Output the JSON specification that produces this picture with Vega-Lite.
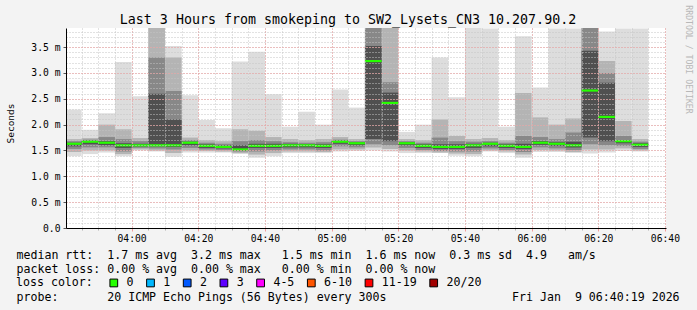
{
  "$schema": "https://vega.github.io/schema/vega-lite/v6.json",
  "width": 600,
  "height": 200,
  "autosize": {"type": "none"},
  "padding": {"left": 66, "top": 28, "right": 31, "bottom": 82},
  "background": "#f3f3f3",
  "title": {
    "text": "Last 3 Hours from smokeping to SW2_Lysets_CN3 10.207.90.2",
    "font": "DejaVu Sans Mono",
    "fontSize": 13.3,
    "fontWeight": "normal",
    "color": "#000000",
    "anchor": "middle",
    "frame": "group",
    "dx": -18,
    "dy": 26,
    "offset": 4
  },
  "config": {
    "view": {"fill": "white", "stroke": null},
    "font": "DejaVu Sans Mono"
  },
  "data": {
    "format": {"parse": {"t": "date", "t2": "date"}},
    "values": [
      {"t": "2026-01-09T03:40:00Z", "t2": "2026-01-09T03:45:00Z", "lo": 1.39, "p10": 1.47, "p25": 1.53, "p40": 1.58, "med": 1.63, "p60": 1.65, "p75": 1.68, "p90": 1.72, "hi": 2.29, "loss": "0"},
      {"t": "2026-01-09T03:45:00Z", "t2": "2026-01-09T03:50:00Z", "lo": 1.43, "p10": 1.50, "p25": 1.56, "p40": 1.62, "med": 1.67, "p60": 1.69, "p75": 1.71, "p90": 1.74, "hi": 1.90, "loss": "0"},
      {"t": "2026-01-09T03:50:00Z", "t2": "2026-01-09T03:55:00Z", "lo": 1.46, "p10": 1.50, "p25": 1.56, "p40": 1.60, "med": 1.65, "p60": 1.68, "p75": 1.76, "p90": 2.00, "hi": 2.22, "loss": "0"},
      {"t": "2026-01-09T03:55:00Z", "t2": "2026-01-09T04:00:00Z", "lo": 1.39, "p10": 1.43, "p25": 1.48, "p40": 1.55, "med": 1.60, "p60": 1.64, "p75": 1.72, "p90": 1.91, "hi": 3.21, "loss": "0"},
      {"t": "2026-01-09T04:00:00Z", "t2": "2026-01-09T04:05:00Z", "lo": 1.50, "p10": 1.52, "p25": 1.55, "p40": 1.58, "med": 1.60, "p60": 1.63, "p75": 1.68, "p90": 1.74, "hi": 2.55, "loss": "0"},
      {"t": "2026-01-09T04:05:00Z", "t2": "2026-01-09T04:10:00Z", "lo": 1.48, "p10": 1.50, "p25": 1.54, "p40": 1.58, "med": 1.60, "p60": 2.60, "p75": 3.30, "p90": 4.20, "hi": 4.50, "loss": "0"},
      {"t": "2026-01-09T04:10:00Z", "t2": "2026-01-09T04:15:00Z", "lo": 1.38, "p10": 1.45, "p25": 1.52, "p40": 1.57, "med": 1.60, "p60": 2.10, "p75": 2.65, "p90": 3.30, "hi": 3.52, "loss": "0"},
      {"t": "2026-01-09T04:15:00Z", "t2": "2026-01-09T04:20:00Z", "lo": 1.46, "p10": 1.50, "p25": 1.55, "p40": 1.60, "med": 1.65, "p60": 1.67, "p75": 1.70, "p90": 1.75, "hi": 2.57, "loss": "0"},
      {"t": "2026-01-09T04:20:00Z", "t2": "2026-01-09T04:25:00Z", "lo": 1.46, "p10": 1.49, "p25": 1.52, "p40": 1.55, "med": 1.59, "p60": 1.62, "p75": 1.65, "p90": 1.70, "hi": 2.09, "loss": "0"},
      {"t": "2026-01-09T04:25:00Z", "t2": "2026-01-09T04:30:00Z", "lo": 1.46, "p10": 1.48, "p25": 1.51, "p40": 1.54, "med": 1.57, "p60": 1.60, "p75": 1.63, "p90": 1.68, "hi": 1.93, "loss": "0"},
      {"t": "2026-01-09T04:30:00Z", "t2": "2026-01-09T04:35:00Z", "lo": 1.43, "p10": 1.45, "p25": 1.48, "p40": 1.50, "med": 1.52, "p60": 1.60, "p75": 1.68, "p90": 1.91, "hi": 3.22, "loss": "0"},
      {"t": "2026-01-09T04:35:00Z", "t2": "2026-01-09T04:40:00Z", "lo": 1.36, "p10": 1.42, "p25": 1.48, "p40": 1.55, "med": 1.59, "p60": 1.63, "p75": 1.70, "p90": 1.88, "hi": 3.41, "loss": "0"},
      {"t": "2026-01-09T04:40:00Z", "t2": "2026-01-09T04:45:00Z", "lo": 1.39, "p10": 1.45, "p25": 1.50, "p40": 1.55, "med": 1.59, "p60": 1.63, "p75": 1.68, "p90": 1.76, "hi": 2.59, "loss": "0"},
      {"t": "2026-01-09T04:45:00Z", "t2": "2026-01-09T04:50:00Z", "lo": 1.45, "p10": 1.48, "p25": 1.52, "p40": 1.56, "med": 1.60, "p60": 1.63, "p75": 1.66, "p90": 1.72, "hi": 1.96, "loss": "0"},
      {"t": "2026-01-09T04:50:00Z", "t2": "2026-01-09T04:55:00Z", "lo": 1.45, "p10": 1.48, "p25": 1.52, "p40": 1.56, "med": 1.60, "p60": 1.62, "p75": 1.65, "p90": 1.70, "hi": 2.25, "loss": "0"},
      {"t": "2026-01-09T04:55:00Z", "t2": "2026-01-09T05:00:00Z", "lo": 1.45, "p10": 1.47, "p25": 1.50, "p40": 1.55, "med": 1.59, "p60": 1.62, "p75": 1.66, "p90": 1.72, "hi": 2.00, "loss": "0"},
      {"t": "2026-01-09T05:00:00Z", "t2": "2026-01-09T05:05:00Z", "lo": 1.48, "p10": 1.52, "p25": 1.58, "p40": 1.63, "med": 1.67, "p60": 1.69, "p75": 1.71, "p90": 1.76, "hi": 2.68, "loss": "0"},
      {"t": "2026-01-09T05:05:00Z", "t2": "2026-01-09T05:10:00Z", "lo": 1.49, "p10": 1.52, "p25": 1.56, "p40": 1.60, "med": 1.64, "p60": 1.66, "p75": 1.68, "p90": 1.72, "hi": 2.33, "loss": "0"},
      {"t": "2026-01-09T05:10:00Z", "t2": "2026-01-09T05:15:00Z", "lo": 1.50, "p10": 1.56, "p25": 1.62, "p40": 1.72, "med": 3.23, "p60": 3.52, "p75": 4.30, "p90": 4.40, "hi": 4.50, "loss": "0"},
      {"t": "2026-01-09T05:15:00Z", "t2": "2026-01-09T05:20:00Z", "lo": 1.48, "p10": 1.53, "p25": 1.60, "p40": 1.68, "med": 2.42, "p60": 2.62, "p75": 2.82, "p90": 3.87, "hi": 3.95, "loss": "0"},
      {"t": "2026-01-09T05:20:00Z", "t2": "2026-01-09T05:25:00Z", "lo": 1.45, "p10": 1.50, "p25": 1.55, "p40": 1.60, "med": 1.64, "p60": 1.66, "p75": 1.68, "p90": 1.72, "hi": 1.86, "loss": "0"},
      {"t": "2026-01-09T05:25:00Z", "t2": "2026-01-09T05:30:00Z", "lo": 1.45, "p10": 1.48, "p25": 1.51, "p40": 1.55, "med": 1.59, "p60": 1.62, "p75": 1.65, "p90": 1.70, "hi": 2.00, "loss": "0"},
      {"t": "2026-01-09T05:30:00Z", "t2": "2026-01-09T05:35:00Z", "lo": 1.45, "p10": 1.46, "p25": 1.49, "p40": 1.53, "med": 1.57, "p60": 1.62, "p75": 1.75, "p90": 2.10, "hi": 3.30, "loss": "0"},
      {"t": "2026-01-09T05:35:00Z", "t2": "2026-01-09T05:40:00Z", "lo": 1.40, "p10": 1.44, "p25": 1.48, "p40": 1.53, "med": 1.57, "p60": 1.62, "p75": 1.68, "p90": 1.78, "hi": 2.53, "loss": "0"},
      {"t": "2026-01-09T05:40:00Z", "t2": "2026-01-09T05:45:00Z", "lo": 1.39, "p10": 1.43, "p25": 1.48, "p40": 1.55, "med": 1.60, "p60": 1.63, "p75": 1.67, "p90": 1.72, "hi": 4.20, "loss": "0"},
      {"t": "2026-01-09T05:45:00Z", "t2": "2026-01-09T05:50:00Z", "lo": 1.48, "p10": 1.50, "p25": 1.54, "p40": 1.58, "med": 1.63, "p60": 1.65, "p75": 1.68, "p90": 1.74, "hi": 3.86, "loss": "0"},
      {"t": "2026-01-09T05:50:00Z", "t2": "2026-01-09T05:55:00Z", "lo": 1.45, "p10": 1.48, "p25": 1.51, "p40": 1.55, "med": 1.59, "p60": 1.62, "p75": 1.65, "p90": 1.70, "hi": 1.96, "loss": "0"},
      {"t": "2026-01-09T05:55:00Z", "t2": "2026-01-09T06:00:00Z", "lo": 1.36, "p10": 1.42, "p25": 1.47, "p40": 1.53, "med": 1.57, "p60": 1.63, "p75": 1.78, "p90": 2.61, "hi": 3.71, "loss": "0"},
      {"t": "2026-01-09T06:00:00Z", "t2": "2026-01-09T06:05:00Z", "lo": 1.47, "p10": 1.51, "p25": 1.56, "p40": 1.61, "med": 1.65, "p60": 1.68, "p75": 1.76, "p90": 2.14, "hi": 2.72, "loss": "0"},
      {"t": "2026-01-09T06:05:00Z", "t2": "2026-01-09T06:10:00Z", "lo": 1.47, "p10": 1.50, "p25": 1.54, "p40": 1.59, "med": 1.63, "p60": 1.66, "p75": 1.72, "p90": 2.00, "hi": 3.86, "loss": "0"},
      {"t": "2026-01-09T06:10:00Z", "t2": "2026-01-09T06:15:00Z", "lo": 1.45, "p10": 1.47, "p25": 1.51, "p40": 1.56, "med": 1.60, "p60": 1.67, "p75": 1.85, "p90": 2.12, "hi": 3.86, "loss": "0"},
      {"t": "2026-01-09T06:15:00Z", "t2": "2026-01-09T06:20:00Z", "lo": 1.44, "p10": 1.52, "p25": 1.62, "p40": 1.75, "med": 2.66, "p60": 3.43, "p75": 4.30, "p90": 4.40, "hi": 4.50, "loss": "0"},
      {"t": "2026-01-09T06:20:00Z", "t2": "2026-01-09T06:25:00Z", "lo": 1.46, "p10": 1.52, "p25": 1.60, "p40": 1.68, "med": 2.15, "p60": 2.81, "p75": 3.00, "p90": 3.23, "hi": 3.80, "loss": "0"},
      {"t": "2026-01-09T06:25:00Z", "t2": "2026-01-09T06:30:00Z", "lo": 1.49, "p10": 1.54, "p25": 1.59, "p40": 1.64, "med": 1.68, "p60": 1.70, "p75": 1.78, "p90": 2.07, "hi": 3.86, "loss": "0"},
      {"t": "2026-01-09T06:30:00Z", "t2": "2026-01-09T06:35:00Z", "lo": 1.48, "p10": 1.50, "p25": 1.53, "p40": 1.57, "med": 1.61, "p60": 1.64, "p75": 1.67, "p90": 1.72, "hi": 3.86, "loss": "0"}
    ]
  },
  "layer": [
    {
      "mark": {"type": "bar", "color": "#dddddd", "clip": true},
      "encoding": {
        "x": {
          "field": "t", "type": "temporal",
          "scale": {"type": "utc", "domain": [1767930019000, 1767940819000]},
          "axis": {
            "orient": "bottom",
            "values": [1767930300000,1767930600000,1767930900000,1767931200000,1767931500000,1767931800000,1767932100000,1767932400000,1767932700000,1767933000000,1767933300000,1767933600000,1767933900000,1767934200000,1767934500000,1767934800000,1767935100000,1767935400000,1767935700000,1767936000000,1767936300000,1767936600000,1767936900000,1767937200000,1767937500000,1767937800000,1767938100000,1767938400000,1767938700000,1767939000000,1767939300000,1767939600000,1767939900000,1767940200000,1767940500000,1767940800000],
            "grid": true, "gridColor": "#c4c4c4", "gridDash": [1, 2], "gridWidth": 1,
            "labels": false, "domain": false, "ticks": true, "tickSize": 2, "tickColor": "#b0b0b0",
            "title": "probe:\u00a0\u00a0\u00a0\u00a0\u00a0\u00a0\u00a020 ICMP Echo Pings (56 Bytes) every 300s\u00a0\u00a0\u00a0\u00a0\u00a0\u00a0\u00a0\u00a0\u00a0\u00a0\u00a0\u00a0\u00a0\u00a0\u00a0\u00a0\u00a0\u00a0Fri Jan\u00a0\u00a09 06:40:19 2026",
            "titleFont": "DejaVu Sans Mono", "titleFontSize": 11.6, "titleFontWeight": "normal",
            "titleColor": "#000000", "titleX": -50, "titleY": 72, "titleAlign": "left",
            "titleBaseline": "alphabetic",
            "zindex": 1
          }
        },
        "x2": {"field": "t2"},
        "y": {
          "field": "lo", "type": "quantitative",
          "scale": {"domain": [0, 3.87], "nice": false, "zero": true},
          "axis": {
            "orient": "left",
            "values": [0,0.1,0.2,0.3,0.4,0.5,0.6,0.7,0.8,0.9,1,1.1,1.2,1.3,1.4,1.5,1.6,1.7,1.8,1.9,2,2.1,2.2,2.3,2.4,2.5,2.6,2.7,2.8,2.9,3,3.1,3.2,3.3,3.4,3.5,3.6,3.7,3.8],
            "grid": true, "gridColor": "#c4c4c4", "gridDash": [1, 2], "gridWidth": 1,
            "labels": false, "domain": false, "ticks": false, "title": null, "zindex": 1
          }
        },
        "y2": {"field": "hi"}
      }
    },
    {
      "mark": {"type": "bar", "color": "#b4b4b4", "clip": true},
      "encoding": {
        "x": {
          "field": "t", "type": "temporal",
          "axis": {
            "orient": "bottom",
            "values": [1767931200000,1767932400000,1767933600000,1767934800000,1767936000000,1767937200000,1767938400000,1767939600000,1767940800000],
            "format": "%H:%M",
            "grid": true, "gridColor": "#f29a9a", "gridDash": [1, 2], "gridWidth": 1,
            "domain": true, "domainColor": "#000000", "domainWidth": 1,
            "ticks": true, "tickSize": 3, "tickColor": "#f29a9a",
            "labelFont": "DejaVu Sans Mono", "labelFontSize": 9.7, "labelColor": "#000000",
            "labelPadding": 2, "labelFlush": false, "labelOverlap": false,
            "title": [
              "median rtt:\u00a0\u00a01.7 ms avg\u00a0\u00a03.2 ms max\u00a0\u00a0\u00a01.5 ms min\u00a0\u00a01.6 ms now\u00a0\u00a00.3 ms sd\u00a0\u00a04.9\u00a0\u00a0\u00a0am/s",
              "packet loss:\u00a00.00 % avg\u00a0\u00a00.00 % max\u00a0\u00a0\u00a00.00 % min\u00a0\u00a00.00 % now"
            ],
            "titleFont": "DejaVu Sans Mono", "titleFontSize": 11.6, "titleFontWeight": "normal",
            "titleColor": "#000000", "titleX": -50, "titleY": 30, "titleAlign": "left",
            "titleBaseline": "alphabetic", "titleLineHeight": 14,
            "zindex": 1
          }
        },
        "x2": {"field": "t2"},
        "y": {
          "field": "p10", "type": "quantitative",
          "axis": {
            "orient": "left",
            "values": [0, 0.5, 1, 1.5, 2, 2.5, 3, 3.5],
            "grid": true, "gridColor": "#f29a9a", "gridDash": [1, 2], "gridWidth": 1,
            "domain": true, "domainColor": "#000000", "domainWidth": 1,
            "ticks": true, "tickSize": 3, "tickColor": "#555555",
            "labelExpr": "datum.value == 0 ? '0.0\u00a0\u00a0' : format(datum.value, '.1f') + ' m'",
            "labelFont": "DejaVu Sans Mono", "labelFontSize": 9.7, "labelColor": "#000000",
            "labelPadding": 3,
            "title": "Seconds",
            "titleFont": "DejaVu Sans Mono", "titleFontSize": 9.5, "titleFontWeight": "normal",
            "titleColor": "#000000", "titleX": -56, "titleY": 95, "titleAngle": 270,
            "titleAlign": "center", "titleBaseline": "middle",
            "zindex": 1
          }
        },
        "y2": {"field": "p90"}
      }
    },
    {
      "mark": {"type": "bar", "color": "#888888", "clip": true},
      "encoding": {
        "x": {"field": "t", "type": "temporal", "axis": null},
        "x2": {"field": "t2"},
        "y": {"field": "p25", "type": "quantitative", "axis": null},
        "y2": {"field": "p75"}
      }
    },
    {
      "mark": {"type": "bar", "color": "#505050", "clip": true},
      "encoding": {
        "x": {"field": "t", "type": "temporal", "axis": null},
        "x2": {"field": "t2"},
        "y": {"field": "p40", "type": "quantitative", "axis": null},
        "y2": {"field": "p60"}
      }
    },
    {
      "mark": {"type": "rule", "stroke": "#26ff00", "strokeWidth": 2.2, "clip": true},
      "encoding": {
        "x": {"field": "t", "type": "temporal", "axis": null},
        "x2": {"field": "t2"},
        "y": {"field": "med", "type": "quantitative", "axis": null}
      }
    },
    {
      "mark": {"type": "square", "size": 0, "opacity": 1, "filled": true},
      "encoding": {
        "x": {"field": "t", "type": "temporal", "axis": null},
        "y": {
          "field": "med", "type": "quantitative",
          "axis": {
            "orient": "right", "labels": false, "ticks": false, "domain": false, "grid": false,
            "title": "RRDTOOL / TOBI OETIKER",
            "titleFont": "DejaVu Sans Mono", "titleFontSize": 8.2, "titleFontWeight": "normal",
            "titleColor": "#b8b8b8", "titleAngle": 90, "titleX": 21, "titleY": 31,
            "titleAlign": "center", "titleBaseline": "middle"
          }
        },
        "fill": {
          "field": "loss", "type": "nominal",
          "scale": {
            "domain": ["0", "1", "2", "3", "4-5", "6-10", "11-19", "20/20"],
            "range": ["#26ff00", "#00b8ff", "#0059ff", "#5e00ff", "#ff00ff", "#ff5500", "#ff0000", "#a10000"]
          },
          "legend": {
            "orient": "none", "legendX": -50, "legendY": 249,
            "direction": "horizontal",
            "title": "loss color:", "titleOrient": "left",
            "titleFont": "DejaVu Sans Mono", "titleFontSize": 11.6, "titleFontWeight": "normal",
            "titleColor": "#000000", "titlePadding": 15,
            "labelFont": "DejaVu Sans Mono", "labelFontSize": 11.6, "labelColor": "#000000",
            "labelOffset": 7, "columnPadding": 9.7,
            "symbolType": "square", "symbolSize": 60, "symbolStrokeColor": "#000000",
            "symbolStrokeWidth": 1, "symbolOpacity": 1
          }
        }
      }
    }
  ],
  "resolve": {"axis": {"x": "independent", "y": "independent"}}
}
